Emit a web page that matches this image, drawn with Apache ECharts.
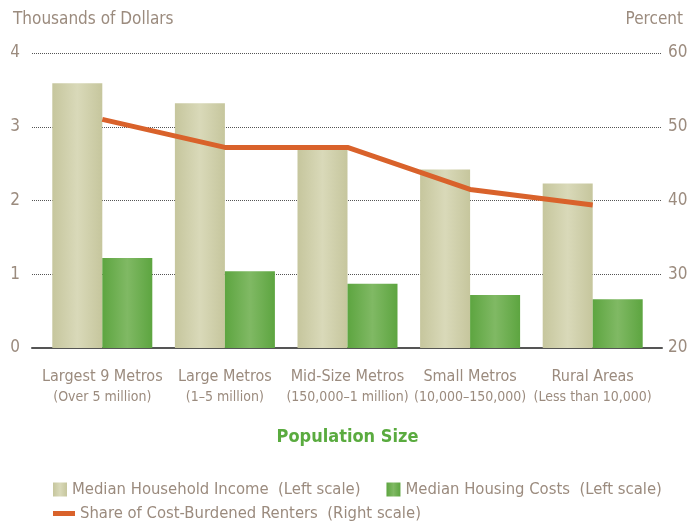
<!DOCTYPE html>
<html>
<head>
<meta charset="utf-8">
<script src="https://cdn.jsdelivr.net/npm/echarts@6/dist/echarts.min.js"></script>
<style>
  html, body { margin: 0; padding: 0; background: #fff; }
  #chart { width: 699px; height: 523px; }
</style>
</head>
<body>
<div id="chart"></div>
<script>
// data
var categories = ['Largest 9 Metros', 'Large Metros', 'Mid-Size Metros', 'Small Metros', 'Rural Areas'];
var subLabels = ['(Over 5 million)', '(1–5 million)', '(150,000–1 million)', '(10,000–150,000)', '(Less than 10,000)'];
var incomeValues = [3.59, 3.32, 2.69, 2.42, 2.23];
var housingValues = [1.22, 1.04, 0.87, 0.72, 0.66];
var burdenedValues = [51.0, 47.2, 47.2, 41.5, 39.4];
var leftTicks = [0, 4, 1];     // min, max, interval
var rightTicks = [20, 60, 10];

var FONT = "'Liberation Sans Narrow', 'DejaVu Sans Condensed', 'Roboto', sans-serif";
var TXT = '#9b8b7e';

function barGrad(edge, mid) {
    return new echarts.graphic.LinearGradient(0, 0, 1, 0, [
        {offset: 0, color: edge},
        {offset: 0.5, color: mid},
        {offset: 1, color: edge}
    ]);
}

var chart = echarts.init(document.getElementById('chart'));
var option = {
    animation: false,
    textStyle: {fontFamily: FONT},
    title: [
        {text: 'Thousands of Dollars', left: 8, top: 6,
            textStyle: {fontFamily: FONT, fontSize: 17, fontWeight: 'normal', color: TXT}},
        {text: 'Percent', right: 11, top: 6,
            textStyle: {fontFamily: FONT, fontSize: 17, fontWeight: 'normal', color: TXT}}
    ],
    legend: [
        {
            data: ['Median Household Income', 'Median Housing Costs'],
            left: 48, top: 476, itemWidth: 14, itemHeight: 14, itemGap: 26,
            icon: 'rect',
            formatter: function (n) { return n + '  (Left scale)'; },
            textStyle: {fontFamily: FONT, fontSize: 16.5, color: TXT}
        },
        {
            data: ['Share of Cost-Burdened Renters'],
            left: 48, top: 500, itemWidth: 22, itemHeight: 5,
            icon: 'rect',
            formatter: function (n) { return n + '  (Right scale)'; },
            textStyle: {fontFamily: FONT, fontSize: 16.5, color: TXT}
        }
    ],
    grid: [
        {left: 32, right: 37, top: 53, bottom: 175},
        {left: 41, right: 45, top: 53, bottom: 175}
    ],
    xAxis: [
        {type: 'value', gridIndex: 0, min: 0, max: 1,
            axisLine: {show: true, onZero: false, lineStyle: {color: '#555', width: 2}},
            axisTick: {show: false}, axisLabel: {show: false}, splitLine: {show: false}},
        {type: 'category', gridIndex: 1, data: categories,
            axisLine: {show: false}, axisTick: {show: false},
            name: 'Population Size', nameLocation: 'middle', nameGap: 80,
            nameTextStyle: {fontFamily: FONT, fontSize: 18, fontWeight: 'bold', color: '#5aab3f'},
            axisLabel: {
                margin: 18, interval: 0,
                formatter: function (v, i) { return '{a|' + v + '}\n{b|' + subLabels[i] + '}'; },
                rich: {
                    a: {fontFamily: FONT, fontSize: 16, color: TXT, lineHeight: 21},
                    b: {fontFamily: FONT, fontSize: 14, color: TXT, lineHeight: 20}
                }
            }}
    ],
    yAxis: [
        {type: 'value', gridIndex: 0, position: 'left', min: leftTicks[0], max: leftTicks[1], interval: leftTicks[2],
            axisLine: {show: false}, axisTick: {show: false},
            axisLabel: {margin: 12, color: TXT, fontSize: 17, fontFamily: FONT},
            splitLine: {lineStyle: {color: '#555', type: [1, 1], width: 1}}},
        {type: 'value', gridIndex: 0, position: 'right', min: rightTicks[0], max: rightTicks[1], interval: rightTicks[2],
            axisLine: {show: false}, axisTick: {show: false},
            axisLabel: {margin: 6, color: TXT, fontSize: 17, fontFamily: FONT},
            splitLine: {show: false}},
        {type: 'value', gridIndex: 1, min: leftTicks[0], max: leftTicks[1], show: false, splitLine: {show: false}},
        {type: 'value', gridIndex: 1, min: rightTicks[0], max: rightTicks[1], show: false, splitLine: {show: false}}
    ],
    series: [
        {name: 'Median Household Income', type: 'bar', xAxisIndex: 1, yAxisIndex: 2,
            barWidth: 50, barGap: '0%', data: incomeValues,
            itemStyle: {color: barGrad('#c6c69d', '#d9d9b9')}},
        {name: 'Median Housing Costs', type: 'bar', xAxisIndex: 1, yAxisIndex: 2,
            barWidth: 50, barGap: '0%', data: housingValues,
            itemStyle: {color: barGrad('#5da540', '#80b964')}},
        {name: 'Share of Cost-Burdened Renters', type: 'line', xAxisIndex: 1, yAxisIndex: 3,
            data: burdenedValues, symbol: 'none', z: 5,
            lineStyle: {color: '#d9622b', width: 5},
            itemStyle: {color: '#d9622b'}}
    ]
};
chart.setOption(option);
</script>
</body>
</html>
